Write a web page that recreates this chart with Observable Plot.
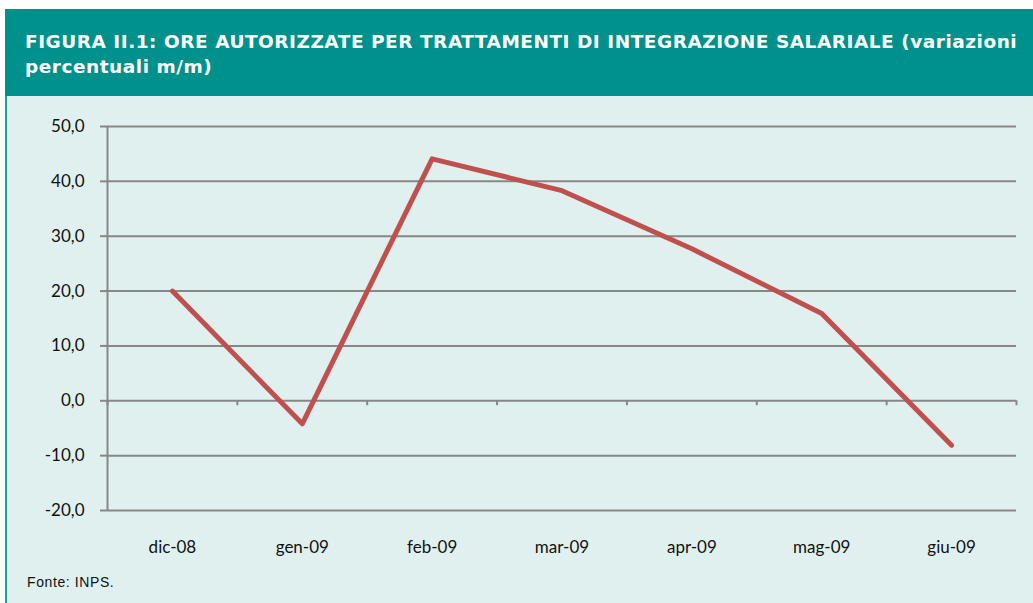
<!DOCTYPE html>
<html>
<head>
<meta charset="utf-8">
<script src="https://cdn.jsdelivr.net/npm/d3@7"></script>
<script src="https://cdn.jsdelivr.net/npm/@observablehq/plot@0.6"></script>
<style>
  html, body { margin: 0; padding: 0; background: #ffffff; width: 1033px; height: 603px; overflow: hidden; }
  #header { position: absolute; left: 5px; top: 9px; width: 1028px; height: 87px; background: #00918C; }
  #title { position: absolute; left: 20px; top: 20px; color: #ffffff; font-family: "DejaVu Sans", sans-serif; font-weight: bold; font-size: 18.5px; letter-spacing: 0.52px; line-height: 25px; white-space: nowrap; }
  #panel { position: absolute; left: 5px; top: 96px; width: 1028px; height: 507px; background: #DFF0EF; border-left: 2px solid #1AA39E; }
  #chart { position: absolute; left: 0px; top: 96px; }
  #caption { position: absolute; left: 27px; top: 574px; font-family: "Liberation Sans", Arial, sans-serif; font-size: 14px; letter-spacing: 0.6px; color: #111; }
</style>
</head>
<body>
<div id="header"><div id="title">FIGURA II.1: ORE AUTORIZZATE PER TRATTAMENTI DI INTEGRAZIONE SALARIALE (variazioni<br>percentuali m/m)</div></div>
<div id="panel"></div>
<div id="chart"></div>
<div id="caption">Fonte: INPS.</div>
<script>
const categories = ["dic-08", "gen-09", "feb-09", "mar-09", "apr-09", "mag-09", "giu-09"];
const values = [20.0, -4.2, 44.1, 38.3, 27.7, 15.9, -8.1];
const yTicks = [-20, -10, 0, 10, 20, 30, 40, 50];

const data = categories.map((c, i) => ({i, c, v: values[i]}));
const boundaries = d3.range(categories.length + 1).map(i => i - 0.5);
const fmt = d => d3.format(".1f")(d).replace(".", ",").replace("−", "-");

const chart = Plot.plot({
  width: 1033,
  height: 470,
  marginLeft: 107,
  marginRight: 17,
  marginTop: 30,
  marginBottom: 56,
  style: {background: "transparent", fontFamily: "Lato, sans-serif", fontSize: "17px", color: "#111"},
  x: {type: "linear", domain: [-0.5, categories.length - 0.5]},
  y: {type: "linear", domain: [-20, 50]},
  marks: [
    Plot.ruleY(yTicks, {y: d => d, stroke: "#878787", strokeWidth: 2}),
    Plot.ruleX([boundaries[0]], {x: d => d, stroke: "#878787", strokeWidth: 2}),
    Plot.ruleX(boundaries, {x: d => d, y1: 0, y2: -0.9, stroke: "#878787", strokeWidth: 2}),
    Plot.axisY({ticks: yTicks, tickFormat: fmt, tickSize: 7, tickPadding: 16, stroke: "#878787", strokeWidth: 2, strokeOpacity: 1, label: null}),
    Plot.axisX({ticks: data.map(d => d.i), tickFormat: i => categories[i], tickSize: 0, tickPadding: 30, label: null}),
    Plot.line(data, {x: "i", y: "v", stroke: "#C0504D", strokeWidth: 5, strokeLinejoin: "round", strokeLinecap: "round"})
  ]
});
document.getElementById("chart").append(chart);
</script>
</body>
</html>
